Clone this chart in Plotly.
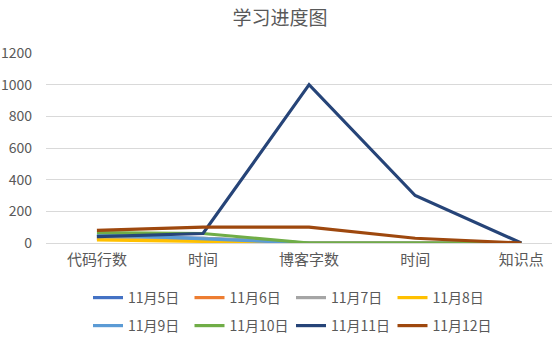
import plotly.graph_objects as go

# Study progress over several days, per metric
categories = ["代码行数", "时间", "博客字数", "时间 ", "知识点"]
tick_text = ["代码行数", "时间", "博客字数", "时间", "知识点"]

series_names = ["11月5日", "11月6日", "11月7日", "11月8日",
                "11月9日", "11月10日", "11月11日", "11月12日"]
nov5 = [45, 30, 0, 0, 0]
nov6 = [30, 20, 0, 0, 0]
nov7 = [30, 30, 0, 0, 0]
nov8 = [20, 8, 0, 0, 0]
nov9 = [52, 25, 0, 0, 0]
nov10 = [65, 60, 0, 0, 0]
nov11 = [40, 60, 1000, 300, 0]
nov12 = [80, 100, 100, 30, 0]
series_values = [nov5, nov6, nov7, nov8, nov9, nov10, nov11, nov12]

colors = ["#4472C4", "#ED7D31", "#A5A5A5", "#FFC000",
          "#5B9BD5", "#70AD47", "#264478", "#9E480E"]

FONT = "Noto Sans CJK SC"
GREY_TEXT = "#595959"

fig = go.Figure()
for i, (name, vals, col) in enumerate(zip(series_names, series_values, colors)):
    fig.add_trace(go.Scatter(
        x=list(range(len(categories))), y=vals, name=name, mode="lines",
        line=dict(color=col, width=3.2),
        legend="legend" if i < 4 else "legend2",
    ))

legend_common = dict(
    orientation="h", xref="container", yref="container",
    xanchor="left", yanchor="middle",
    font=dict(family=FONT, size=14, color=GREY_TEXT),
    entrywidth=56.5, entrywidthmode="pixels",
    bgcolor="rgba(0,0,0,0)", borderwidth=0,
)

fig.update_layout(
    width=552, height=342,
    margin=dict(l=46, r=0, t=53, b=99),
    paper_bgcolor="white", plot_bgcolor="white",
    title=dict(text="学习进度图", x=280 / 552, xanchor="center",
               y=1 - 18 / 342, yanchor="middle",
               font=dict(family=FONT, size=19, color=GREY_TEXT)),
    showlegend=True,
    legend=dict(x=88 / 552, y=1 - 298 / 342, **legend_common),
    legend2=dict(x=88 / 552, y=1 - 326 / 342, **legend_common),
    xaxis=dict(
        range=[-0.48, 4.29], tickmode="array",
        tickvals=list(range(len(categories))), ticktext=tick_text,
        showgrid=False, zeroline=False, showline=False,
        tickfont=dict(family=FONT, size=15, color=GREY_TEXT),
        ticks="", ticklabelstandoff=6, fixedrange=True,
    ),
    yaxis=dict(
        range=[0, 1200], dtick=200, tick0=0,
        showgrid=True, gridcolor="#D9D9D9", gridwidth=1,
        zeroline=True, zerolinecolor="#D9D9D9", zerolinewidth=1,
        showline=False, ticks="",
        tickfont=dict(family=FONT, size=14, color=GREY_TEXT),
        ticklabelstandoff=13, fixedrange=True,
    ),
)

fig.write_html("out.html")
